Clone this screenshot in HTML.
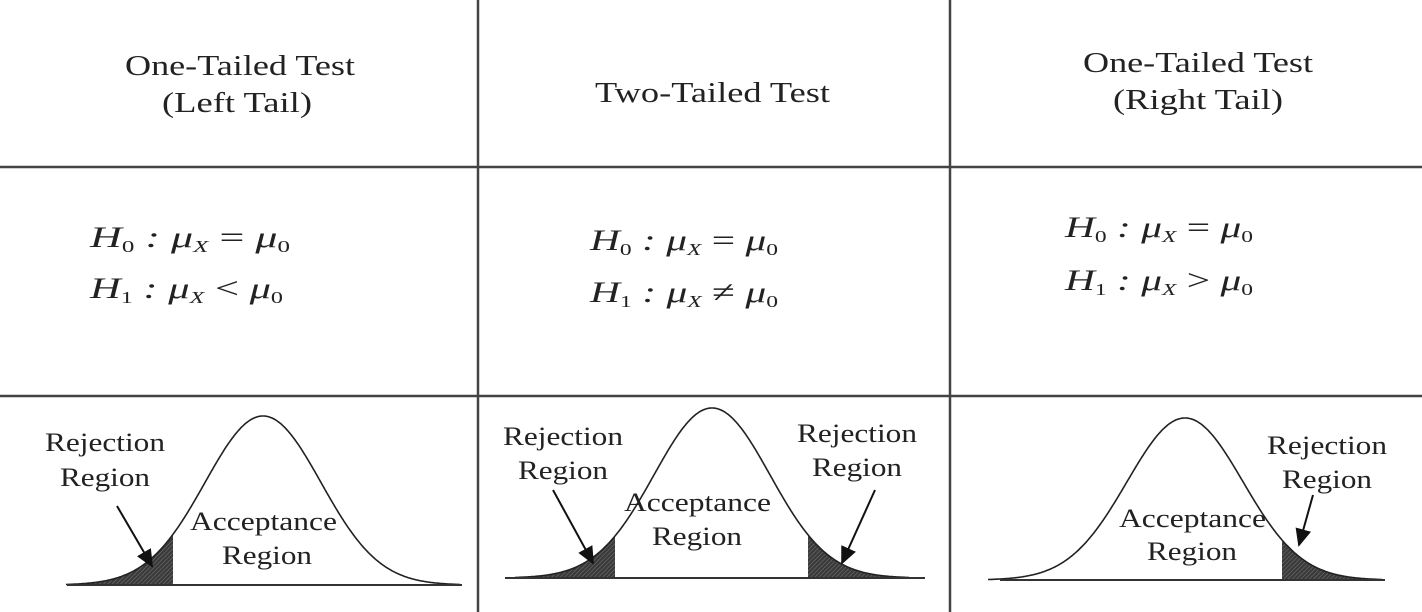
<!DOCTYPE html>
<html><head><meta charset="utf-8"><style>
body{margin:0;background:#fff}
svg{display:block}
text{font-family:"Liberation Serif",serif;fill:#222}
.t{font-size:28px}
.f{font-size:30px;font-style:italic}
.l{font-size:26px}
</style></head><body>
<svg id="c" width="1422" height="612">
<defs><pattern id="hatch" width="3" height="3" patternUnits="userSpaceOnUse" patternTransform="rotate(45)"><rect width="3" height="3" fill="#3a3a3a"/><line x1="0" y1="0" x2="0" y2="3" stroke="#888" stroke-width="0.8"/></pattern>
<marker id="ah" markerWidth="10" markerHeight="10" refX="8" refY="5" orient="auto"><path d="M0,1 L9,5 L0,9 z" fill="#111"/></marker></defs>
<g stroke="#444" stroke-width="2.5">
<line x1="0" y1="167" x2="1422" y2="167"/><line x1="0" y1="396" x2="1422" y2="396"/>
<line x1="478" y1="0" x2="478" y2="612"/><line x1="950" y1="0" x2="950" y2="612"/>
</g>
<g lengthAdjust="spacingAndGlyphs">
<text class="t" x="125" y="75" textLength="230" lengthAdjust="spacingAndGlyphs">One-Tailed Test</text><text class="t" x="162" y="112" textLength="150" lengthAdjust="spacingAndGlyphs">(Left Tail)</text>
<text class="t" x="595" y="102" textLength="235" lengthAdjust="spacingAndGlyphs">Two-Tailed Test</text>
<text class="t" x="1083" y="72" textLength="230" lengthAdjust="spacingAndGlyphs">One-Tailed Test</text><text class="t" x="1113" y="109" textLength="170" lengthAdjust="spacingAndGlyphs">(Right Tail)</text>
</g>
<g>
<text class="f" x="90" y="247" textLength="200" lengthAdjust="spacingAndGlyphs">H<tspan font-size="17" dy="5" font-style="normal">0</tspan><tspan dy="-5"> : μ</tspan><tspan font-size="17" dy="5">X</tspan><tspan dy="-5" font-style="normal"> = </tspan>μ<tspan font-size="17" dy="5" font-style="normal">0</tspan></text>
<text class="f" x="90" y="298" textLength="193" lengthAdjust="spacingAndGlyphs">H<tspan font-size="17" dy="5" font-style="normal">1</tspan><tspan dy="-5"> : μ</tspan><tspan font-size="17" dy="5">X</tspan><tspan dy="-5" font-style="normal"> &lt; </tspan>μ<tspan font-size="17" dy="5" font-style="normal">0</tspan></text>
<text class="f" x="590" y="250" textLength="188" lengthAdjust="spacingAndGlyphs">H<tspan font-size="17" dy="5" font-style="normal">0</tspan><tspan dy="-5"> : μ</tspan><tspan font-size="17" dy="5">X</tspan><tspan dy="-5" font-style="normal"> = </tspan>μ<tspan font-size="17" dy="5" font-style="normal">0</tspan></text>
<text class="f" x="590" y="302" textLength="188" lengthAdjust="spacingAndGlyphs">H<tspan font-size="17" dy="5" font-style="normal">1</tspan><tspan dy="-5"> : μ</tspan><tspan font-size="17" dy="5">X</tspan><tspan dy="-5" font-style="normal"> ≠ </tspan>μ<tspan font-size="17" dy="5" font-style="normal">0</tspan></text>
<text class="f" x="1065" y="237" textLength="188" lengthAdjust="spacingAndGlyphs">H<tspan font-size="17" dy="5" font-style="normal">0</tspan><tspan dy="-5"> : μ</tspan><tspan font-size="17" dy="5">X</tspan><tspan dy="-5" font-style="normal"> = </tspan>μ<tspan font-size="17" dy="5" font-style="normal">0</tspan></text>
<text class="f" x="1065" y="290" textLength="188" lengthAdjust="spacingAndGlyphs">H<tspan font-size="17" dy="5" font-style="normal">1</tspan><tspan dy="-5"> : μ</tspan><tspan font-size="17" dy="5">X</tspan><tspan dy="-5" font-style="normal"> &gt; </tspan>μ<tspan font-size="17" dy="5" font-style="normal">0</tspan></text>
</g>
<g id="curves"></g>
<g>
<text class="l" x="45" y="451" textLength="120" lengthAdjust="spacingAndGlyphs">Rejection</text><text class="l" x="60" y="486" textLength="90" lengthAdjust="spacingAndGlyphs">Region</text>
<text class="l" x="190" y="530" textLength="147" lengthAdjust="spacingAndGlyphs">Acceptance</text><text class="l" x="222" y="564" textLength="90" lengthAdjust="spacingAndGlyphs">Region</text>
<text class="l" x="503" y="445" textLength="120" lengthAdjust="spacingAndGlyphs">Rejection</text><text class="l" x="518" y="479" textLength="90" lengthAdjust="spacingAndGlyphs">Region</text>
<text class="l" x="797" y="442" textLength="120" lengthAdjust="spacingAndGlyphs">Rejection</text><text class="l" x="812" y="476" textLength="90" lengthAdjust="spacingAndGlyphs">Region</text>
<text class="l" x="624" y="511" textLength="147" lengthAdjust="spacingAndGlyphs">Acceptance</text><text class="l" x="652" y="545" textLength="90" lengthAdjust="spacingAndGlyphs">Region</text>
<text class="l" x="1119" y="527" textLength="147" lengthAdjust="spacingAndGlyphs">Acceptance</text><text class="l" x="1147" y="560" textLength="90" lengthAdjust="spacingAndGlyphs">Region</text>
<text class="l" x="1267" y="454" textLength="120" lengthAdjust="spacingAndGlyphs">Rejection</text><text class="l" x="1282" y="488" textLength="90" lengthAdjust="spacingAndGlyphs">Region</text>
</g>
<g stroke="#111" stroke-width="2" marker-end="url(#ah)">
<line x1="117" y1="506" x2="152" y2="566"/>
<line x1="553" y1="490" x2="593" y2="563"/>
<line x1="875" y1="490" x2="842" y2="563"/>
<line x1="1313" y1="495" x2="1299" y2="545"/>
</g>
</svg>
<script>
const panelCenters=[263,712,1185];
const peakY=[416,408,418];
const baseY=[585,578,580];
const axisStart=[67,505,1000];
const axisEnd=[462,925,1385];
const leftCrit=[173,615,null];
const rightCrit=[null,808,1282];
const sigma=58;
const g=document.getElementById('curves');
const NS='http://www.w3.org/2000/svg';
function yAt(i,x){const z=(x-panelCenters[i])/sigma;return baseY[i]-(baseY[i]-peakY[i])*Math.exp(-z*z/2);}
function pathBetween(i,a,b,close){let d='';for(let x=a;x<=b;x+=1){d+=(d?'L':'M')+x+','+yAt(i,x).toFixed(1);}if(close)d+='L'+b+','+baseY[i]+'L'+a+','+baseY[i]+'Z';return d;}
for(let i=0;i<3;i++){
 const a=panelCenters[i]-3.4*sigma,b=panelCenters[i]+3.4*sigma;
 if(leftCrit[i]!==null){const p=document.createElementNS(NS,'path');p.setAttribute('d',pathBetween(i,Math.round(a),leftCrit[i],true));p.setAttribute('fill','url(#hatch)');
 
 g.appendChild(p);}
 if(rightCrit[i]!==null){const p=document.createElementNS(NS,'path');p.setAttribute('d',pathBetween(i,rightCrit[i],Math.round(b),true));p.setAttribute('fill','url(#hatch)');
 
 g.appendChild(p);}
 const c=document.createElementNS(NS,'path');c.setAttribute('d',pathBetween(i,Math.round(a),Math.round(b),false));c.setAttribute('fill','none');c.setAttribute('stroke','#222');c.setAttribute('stroke-width','1.6');
 
 g.appendChild(c);
 const l=document.createElementNS(NS,'line');l.setAttribute('x1',axisStart[i]);l.setAttribute('x2',axisEnd[i]);l.setAttribute('y1',baseY[i]);l.setAttribute('y2',baseY[i]);l.setAttribute('stroke','#333');l.setAttribute('stroke-width','2');
 
 g.appendChild(l);
}
</script>
</body></html>
